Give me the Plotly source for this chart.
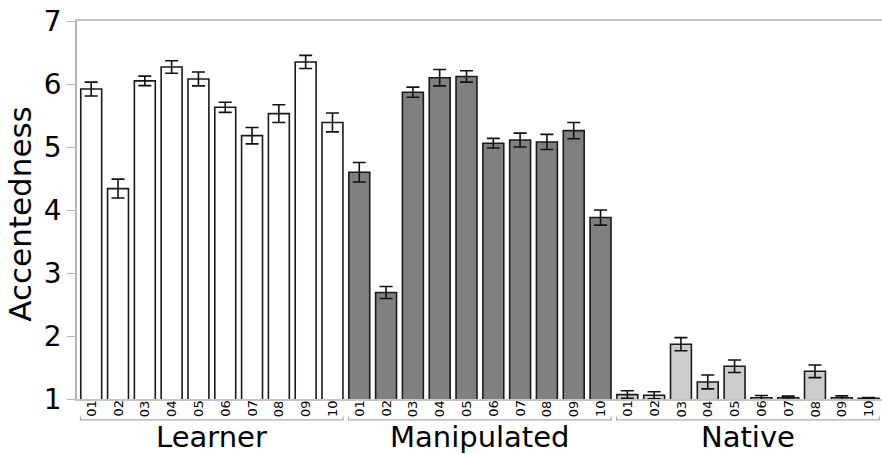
import plotly.graph_objects as go

groups = ["Learner", "Manipulated", "Native"]
speakers = ["01", "02", "03", "04", "05", "06", "07", "08", "09", "10"]

learner_mean = [5.92, 4.34, 6.05, 6.27, 6.08, 5.63, 5.18, 5.53, 6.35, 5.39]
learner_err = [0.11, 0.15, 0.075, 0.10, 0.11, 0.08, 0.13, 0.14, 0.105, 0.15]
manip_mean = [4.60, 2.69, 5.87, 6.10, 6.12, 5.06, 5.11, 5.08, 5.26, 3.88]
manip_err = [0.155, 0.095, 0.08, 0.13, 0.09, 0.077, 0.11, 0.12, 0.13, 0.12]
native_mean = [1.07, 1.06, 1.87, 1.27, 1.52, 1.02, 1.02, 1.44, 1.02, 1.01]
native_err = [0.06, 0.055, 0.105, 0.11, 0.10, 0.035, 0.025, 0.10, 0.03, 0.015]

means = [learner_mean, manip_mean, native_mean]
errs = [learner_err, manip_err, native_err]
colors = ["#ffffff", "#808080", "#cccccc"]

FONT = "DejaVu Sans"
n = len(speakers)

fig = go.Figure()
for gi, g in enumerate(groups):
    xs = [gi * n + i for i in range(n)]
    fig.add_trace(go.Bar(
        x=xs, y=means[gi], name=g, width=0.78,
        marker=dict(color=colors[gi], line=dict(color="#1a1a1a", width=1.6)),
        error_y=dict(type="data", array=errs[gi], visible=True,
                     color="#111111", thickness=1.6, width=6.5),
        showlegend=False,
    ))
    # rotated speaker labels
    for x, s in zip(xs, speakers):
        fig.add_annotation(x=x, y=-0.025, xref="x", yref="paper", text=s,
                           textangle=-90, showarrow=False,
                           xanchor="center", yanchor="middle",
                           font=dict(family=FONT, size=13, color="#000000"))
    # bracket under group
    x0, x1 = xs[0] - 0.4, xs[-1] + 0.4
    fig.add_shape(type="path",
                  path=f"M {x0} -0.046 L {x0} -0.055 L {x1} -0.055 L {x1} -0.046",
                  xref="x", yref="paper", line=dict(color="#aaaaaa", width=1.2))
    fig.add_annotation(x=(xs[0] + xs[-1]) / 2, y=-0.101, xref="x", yref="paper",
                       text=g, showarrow=False, yanchor="middle",
                       font=dict(family=FONT, size=29, color="#000000"))

fig.add_annotation(x=-0.071, y=0.49, xref="paper", yref="paper",
                   text="Accentedness", textangle=-90, showarrow=False,
                   xanchor="center", yanchor="middle",
                   font=dict(family=FONT, size=31, color="#000000"))

fig.update_layout(
    width=882, height=454,
    margin=dict(l=77, r=0, t=21, b=55),
    paper_bgcolor="white", plot_bgcolor="white",
    bargap=0.2,
    font=dict(family=FONT, color="#000000"),
)
fig.update_xaxes(
    range=[-0.53, 3 * n - 0.5],
    showticklabels=False,
    showgrid=False, zeroline=False,
    showline=True, mirror=True, linecolor="#c4c4c4", linewidth=1.5,
    ticks="", ticklen=0,
)
fig.update_yaxes(
    range=[1, 7], dtick=1, tick0=1,
    tickfont=dict(family=FONT, size=28, color="#000000"),
    showgrid=False, zeroline=False,
    showline=True, linecolor="#b4b4b4", linewidth=1.5,
    ticks="outside", ticklen=8, tickcolor="#b4b4b4", tickwidth=1.2,
)

fig.write_html("out.html", config={"displayModeBar": False},
               post_script="document.body.style.margin='0px';document.body.style.overflow='hidden';")
